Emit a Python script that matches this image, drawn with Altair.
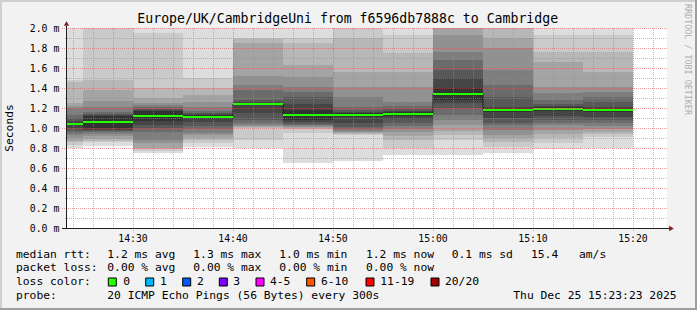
import altair as alt
import pandas as pd

# ---------------- data ----------------
seg_end = ["14:25", "14:30", "14:35", "14:40", "14:45", "14:50",
           "14:55", "15:00", "15:05", "15:10", "15:15", "15:20"]

# 20 sorted ping RTTs (ms) per 5-minute step
p_1425 = [0.80, 0.83, 0.86, 0.87, 0.90, 0.93, 0.95, 0.97, 1.00, 1.03, 1.05, 1.07, 1.10, 1.13, 1.20, 1.22, 1.25, 1.46, 1.48, 2.10]
p_1430 = [0.82, 0.86, 0.87, 0.89, 0.92, 0.94, 0.96, 0.97, 0.98, 1.00, 1.12, 1.13, 1.14, 1.16, 1.21, 1.27, 1.38, 1.48, 2.05, 2.30]
p_1435 = [0.75, 0.77, 0.79, 0.80, 0.85, 0.88, 0.96, 1.00, 1.03, 1.07, 1.17, 1.18, 1.19, 1.21, 1.23, 1.25, 1.30, 1.40, 1.95, 2.20]
p_1440 = [0.81, 0.85, 0.88, 0.90, 0.93, 0.95, 0.99, 1.02, 1.06, 1.09, 1.13, 1.14, 1.15, 1.17, 1.21, 1.26, 1.33, 1.40, 1.50, 2.10]
p_1445 = [0.80, 0.88, 1.00, 1.01, 1.02, 1.03, 1.05, 1.08, 1.15, 1.23, 1.25, 1.26, 1.28, 1.38, 1.43, 1.52, 1.85, 1.89, 1.90, 2.10]
p_1450 = [0.65, 0.95, 0.99, 1.00, 1.01, 1.02, 1.03, 1.04, 1.06, 1.08, 1.18, 1.24, 1.31, 1.36, 1.41, 1.51, 1.63, 1.85, 1.90, 2.20]
p_1455 = [0.67, 0.93, 0.94, 0.95, 0.96, 0.97, 0.99, 1.01, 1.05, 1.11, 1.15, 1.16, 1.18, 1.21, 1.31, 1.41, 1.56, 1.90, 2.05, 2.20]
p_1500 = [0.73, 0.80, 0.88, 0.92, 0.96, 0.99, 1.02, 1.05, 1.09, 1.12, 1.16, 1.17, 1.19, 1.22, 1.26, 1.41, 1.56, 1.75, 1.93, 2.10]
p_1505 = [0.73, 0.88, 0.93, 0.97, 1.03, 1.08, 1.13, 1.20, 1.25, 1.28, 1.40, 1.50, 1.58, 1.68, 1.76, 1.93, 2.10, 2.20, 2.30, 2.40]
p_1510 = [0.75, 0.81, 0.86, 0.90, 0.93, 0.98, 1.03, 1.05, 1.10, 1.16, 1.20, 1.21, 1.31, 1.43, 1.58, 1.80, 1.90, 2.10, 2.20, 2.30]
p_1515 = [0.79, 0.85, 0.90, 0.94, 0.98, 1.03, 1.05, 1.08, 1.12, 1.17, 1.21, 1.22, 1.24, 1.28, 1.35, 1.41, 1.66, 1.76, 1.93, 2.10]
p_1520 = [0.80, 0.91, 0.94, 0.96, 0.99, 1.02, 1.05, 1.08, 1.11, 1.16, 1.20, 1.21, 1.26, 1.31, 1.36, 1.41, 1.56, 1.76, 1.93, 2.10]
pings = [p_1425, p_1430, p_1435, p_1440, p_1445, p_1450,
         p_1455, p_1500, p_1505, p_1510, p_1515, p_1520]

y_ticks = [0.0, 0.2, 0.4, 0.6, 0.8, 1.0, 1.2, 1.4, 1.6, 1.8, 2.0]
x_ticks = ["14:30", "14:40", "14:50", "15:00", "15:10", "15:20"]

title_text = "Europe/UK/CambridgeUni from f6596db7888c to Cambridge"
loss_labels = ["0", "1", "2", "3", "4-5", "6-10", "11-19", "20/20"]
loss_colors = ["#26ff00", "#00b8ff", "#0059ff", "#7e00ff", "#ff00ff", "#ff5500", "#ff0000", "#a10000"]
legend_items = [
    "median rtt:", "1.2 ms avg", "1.3 ms max", "1.0 ms min", "1.2 ms now", "0.1 ms sd", "15.4", "am/s",
    "packet loss:", "0.00 % avg", "0.00 % max", "0.00 % min", "0.00 % now",
    "loss color:",
    "probe:", "20 ICMP Echo Pings (56 Bytes) every 300s", "Thu Dec 25 15:23:23 2025",
]

# ---------------- layout / style ----------------
W, H = 600, 200
OX, OY = 67, 28
FONT = "DejaVu Sans Mono"
T0, T1 = 23.4, 83.4  # minutes after 14:00 (14:23:24 .. 15:23:24)
band_grey = ["#dddddd", "#cacaca", "#b7b7b7", "#a4a4a4", "#919191",
             "#7e7e7e", "#6b6b6b", "#585858", "#454545", "#323232"]
legend_pos = [
    (16, 257.5), (107.3, 257.5), (193.3, 257.5), (279.3, 257.5), (366, 257.5), (451.7, 257.5), (531, 257.5), (579, 257.5),
    (16, 271), (107.3, 271), (193.3, 271), (279.3, 271), (366, 271),
    (16, 285),
    (16, 298.5), (107.3, 298.5), (513.3, 298.5),
]
sq_x = [108.3, 145.7, 182.7, 219.3, 256, 306.7, 366, 431]
lab_x = [123.3, 160, 197, 233.3, 270, 321, 380.3, 445]


def tmin(s):
    h, m = s.split(":")
    return int(h) * 60 + int(m) - 14 * 60


xs = alt.Scale(domain=[T0, T1])
ys = alt.Scale(domain=[0, 2])

# smoke bands
rows = []
for b in range(10):
    for s, e in enumerate(seg_end):
        p = sorted(pings[s])
        rows.append(dict(t0=tmin(e) - 5, t1=tmin(e), lo=p[b], hi=p[19 - b], c=band_grey[b], o=b))
smoke_df = pd.DataFrame(rows)
smoke = alt.Chart(smoke_df).mark_rect(clip=True).encode(
    x=alt.X("t0:Q", scale=xs, axis=None), x2="t1:Q",
    y=alt.Y("lo:Q", scale=ys, axis=None), y2="hi:Q",
    fill=alt.Fill("c:N", scale=None), order="o:Q")

med = []
for s, e in enumerate(seg_end):
    p = sorted(pings[s])
    med.append(round((p[9] + p[10]) / 2, 3))
med_df = pd.DataFrame(dict(t0=[tmin(e) - 5 for e in seg_end], t1=[tmin(e) for e in seg_end], m=med))
med_df["lo"] = med_df["m"] - 0.011
med_df["hi"] = med_df["m"] + 0.011
step_df = pd.DataFrame(dict(t=list(med_df["t0"]) + [med_df["t1"].iloc[-1]], m=med + [med[-1]]))

step_line = alt.Chart(step_df).mark_line(interpolate="step-after", color="#1f1f1f", strokeWidth=1, clip=True).encode(
    x=alt.X("t:Q", scale=xs, axis=None), y=alt.Y("m:Q", scale=ys, axis=None))
green = alt.Chart(med_df).mark_rect(clip=True, color=loss_colors[0]).encode(
    x=alt.X("t0:Q", scale=xs, axis=None), x2="t1:Q",
    y=alt.Y("lo:Q", scale=ys, axis=None), y2="hi:Q")

# grid
hmaj = pd.DataFrame(dict(v=[round(0.2 * i, 1) for i in range(1, 11)]))
hmin = pd.DataFrame(dict(v=[round(0.1 * i, 1) for i in range(1, 20, 2)]))
vmaj = pd.DataFrame(dict(t=[tmin(s) for s in x_ticks]))
vmin = pd.DataFrame(dict(t=[m for m in range(24, 84, 2) if m % 10 != 0]))

g_min_h = alt.Chart(hmin).mark_rule(color="#8f8f8f", opacity=0.6, strokeDash=[1, 1], yOffset=0.5).encode(
    y=alt.Y("v:Q", scale=ys, axis=None), x=alt.value(-2), x2=alt.value(W))
g_min_v = alt.Chart(vmin).mark_rule(color="#8f8f8f", opacity=0.6, strokeDash=[1, 1], xOffset=0.5).encode(
    x=alt.X("t:Q", scale=xs, axis=None), y=alt.value(0), y2=alt.value(H + 2))
g_maj_h = alt.Chart(hmaj).mark_rule(color="#de5050", opacity=0.55, strokeDash=[1, 1], yOffset=0.5).encode(
    y=alt.Y("v:Q", scale=ys, axis=None), x=alt.value(-5), x2=alt.value(W))
g_maj_v = alt.Chart(vmaj).mark_rule(color="#de5050", opacity=0.55, strokeDash=[1, 1], xOffset=0.5).encode(
    x=alt.X("t:Q", scale=xs, axis=None), y=alt.value(0), y2=alt.value(H + 3))

one = pd.DataFrame(dict(a=[0]))
axis_y = alt.Chart(one).mark_rule(color="#1f1f1f", strokeWidth=1).encode(
    x=alt.value(-0.5), y=alt.value(H + 0.5), y2=alt.value(-2))
axis_x = alt.Chart(one).mark_rule(color="#1f1f1f", strokeWidth=1).encode(
    x=alt.value(-5), x2=alt.value(W + 3), y=alt.value(H + 0.5))
arrow_up = alt.Chart(one).mark_point(shape="triangle-up", filled=True, color="#801f1f", size=28, opacity=1).encode(
    x=alt.value(-0.5), y=alt.value(-4.5))
arrow_rt = alt.Chart(one).mark_point(shape="triangle-right", filled=True, color="#801f1f", size=28, opacity=1).encode(
    x=alt.value(W + 4.5), y=alt.value(H + 0.5))

# tick labels
ylab_df = pd.DataFrame(dict(v=y_ticks, lab=[f"{v:.1f} m" for v in y_ticks]))
ylab = alt.Chart(ylab_df).mark_text(font=FONT, fontSize=9.8, align="right", baseline="alphabetic", dy=3.6, color="#000").encode(
    y=alt.Y("v:Q", scale=ys, axis=None), x=alt.value(-7.7), text="lab:N")
xlab_df = pd.DataFrame(dict(t=[tmin(s) for s in x_ticks], lab=x_ticks))
xlab = alt.Chart(xlab_df).mark_text(font=FONT, fontSize=9.8, align="center", baseline="alphabetic", color="#000").encode(
    x=alt.X("t:Q", scale=xs, axis=None), y=alt.value(241.7 - OY), text="lab:N")

# titles
title = alt.Chart(one).mark_text(font=FONT, fontSize=13.2, align="center", baseline="alphabetic", color="#000", text=title_text).encode(
    x=alt.value(347.7 - OX), y=alt.value(23 - OY))
ytitle = alt.Chart(one).mark_text(font=FONT, fontSize=11.3, align="center", baseline="middle", angle=270, color="#000", text="Seconds").encode(
    x=alt.value(9.5 - OX), y=alt.value(128 - OY))
water = alt.Chart(one).mark_text(font=FONT, fontSize=8.4, align="left", baseline="middle", angle=90, color="#000", opacity=0.3,
                                 text="RRDTOOL / TOBI OETIKER").encode(
    x=alt.value(687.5 - OX), y=alt.value(4 - OY))

# legend
leg_df = pd.DataFrame(dict(txt=legend_items, px=[p[0] - OX for p in legend_pos], py=[p[1] - OY for p in legend_pos]))
legend = alt.Chart(leg_df).mark_text(font=FONT, fontSize=11.3, align="left", baseline="alphabetic", color="#000").encode(
    x=alt.X("px:Q", scale=None), y=alt.Y("py:Q", scale=None), text="txt:N")
sq_df = pd.DataFrame(dict(x0=[x - OX for x in sq_x], c=loss_colors))
sq_df["x1"] = sq_df["x0"] + 8
sq_df["y0"] = 278 - OY
sq_df["y1"] = 286 - OY
squares = alt.Chart(sq_df).mark_rect(stroke="#000", strokeWidth=1).encode(
    x=alt.X("x0:Q", scale=None), x2="x1:Q", y=alt.Y("y0:Q", scale=None), y2="y1:Q",
    fill=alt.Fill("c:N", scale=None))
ll_df = pd.DataFrame(dict(txt=loss_labels, px=[x - OX for x in lab_x]))
ll_df["py"] = 285 - OY
loss_text = alt.Chart(ll_df).mark_text(font=FONT, fontSize=11.3, align="left", baseline="alphabetic", color="#000").encode(
    x=alt.X("px:Q", scale=None), y=alt.Y("py:Q", scale=None), text="txt:N")

# frame shading
fr_df = pd.DataFrame(dict(
    x0=[-OX, -OX, -OX, 697 - OX - 2], x1=[697 - OX, -OX + 2, 697 - OX, 697 - OX],
    y0=[-OY, -OY, 310 - OY - 2, -OY], y1=[-OY + 2, 310 - OY, 310 - OY, 310 - OY],
    c=["#cfcfcf", "#cfcfcf", "#9e9e9e", "#9e9e9e"]))
frame = alt.Chart(fr_df).mark_rect().encode(
    x=alt.X("x0:Q", scale=None), x2="x1:Q", y=alt.Y("y0:Q", scale=None), y2="y1:Q",
    fill=alt.Fill("c:N", scale=None))

chart = alt.layer(
    smoke, step_line, green,
    g_min_h, g_min_v, g_maj_h, g_maj_v,
    axis_y, axis_x, arrow_up, arrow_rt,
    ylab, xlab, title, ytitle, water,
    legend, squares, loss_text, frame,
).resolve_scale(x="independent", y="independent").properties(
    width=W, height=H,
    autosize=alt.AutoSizeParams(type="none"),
    padding={"left": OX, "top": OY, "right": 697 - OX - W, "bottom": 310 - OY - H},
    background="#f2f2f2",
).configure_view(fill="white", stroke=None)

chart.save("out.html", embed_options={"renderer": "svg", "actions": False})
